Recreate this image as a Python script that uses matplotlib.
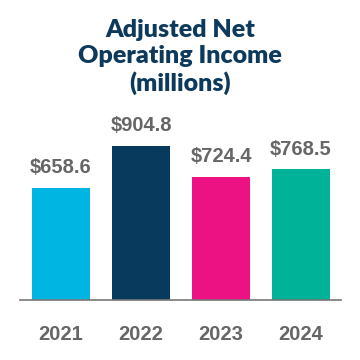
import matplotlib.pyplot as plt
from matplotlib import font_manager

years = ['2021', '2022', '2023', '2024']
values = [658.6, 904.8, 724.4, 768.5]
labels = ['$658.6', '$904.8', '$724.4', '$768.5']
colors = ['#00b5e2', '#073a5c', '#ec1284', '#00b398']

names = {f.name for f in font_manager.fontManager.ttflist}
narrow = 'Liberation Sans Narrow' if 'Liberation Sans Narrow' in names else 'Liberation Sans'

fig = plt.figure(figsize=(3.6, 3.6), dpi=100)
ax = fig.add_axes([20 / 360, 60 / 360, 321 / 360, 170.2 / 360])

x = list(range(len(years)))
ax.bar(x, values, width=0.725, color=colors)
ax.set_xlim(-0.5125, 3.5)
ax.set_ylim(0, 1000)

for xi, v, lab in zip(x, values, labels):
    ax.text(xi, v + 62, lab, ha='center', va='bottom', fontsize=14.5,
            fontweight='bold', color='#666666', family=narrow)

ax.set_xticks(x)
ax.set_xticklabels(years, fontsize=14.5, fontweight='bold', color='#666666', family=narrow)
ax.tick_params(axis='x', length=0, pad=18)
ax.set_yticks([])
for s in ['top', 'right', 'left']:
    ax.spines[s].set_visible(False)
ax.spines['bottom'].set_color('#777777')
ax.spines['bottom'].set_linewidth(1.2)

fig.text(0.5, 1 - 57 / 360, 'Adjusted Net\nOperating Income\n(millions)', ha='center', va='center',
         fontsize=18, fontweight='heavy', color='#0d3a5c', family='Lato', linespacing=1.2)

fig.savefig('out.png', dpi=100)
